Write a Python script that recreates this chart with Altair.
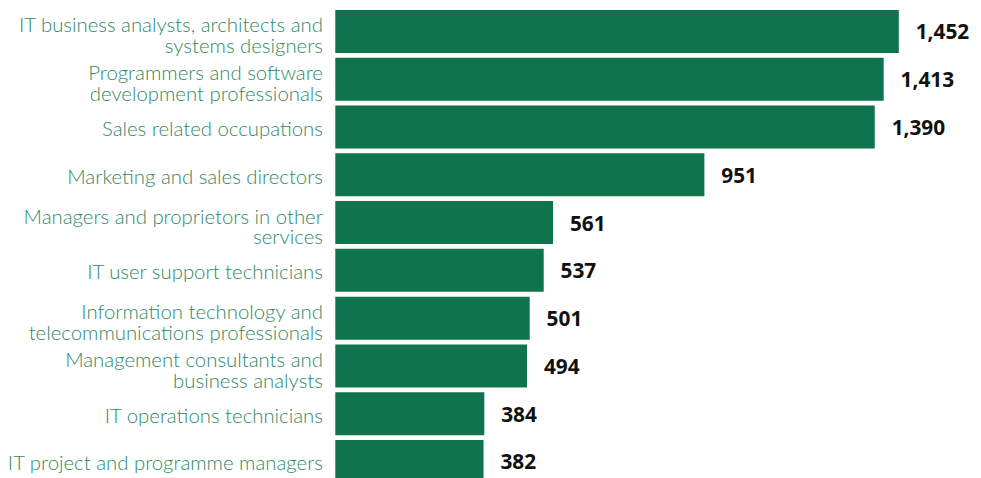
import altair as alt
import pandas as pd

categories = [
    "IT business analysts, architects and|systems designers",
    "Programmers and software|development professionals",
    "Sales related occupations",
    "Marketing and sales directors",
    "Managers and proprietors in other|services",
    "IT user support technicians",
    "Information technology and|telecommunications professionals",
    "Management consultants and|business analysts",
    "IT operations technicians",
    "IT project and programme managers",
]
values = [1452, 1413, 1390, 951, 561, 537, 501, 494, 384, 382]
value_labels = ["1,452", "1,413", "1,390", "951", "561", "537", "501", "494", "384", "382"]

df = pd.DataFrame({"cat": categories, "val": values, "lab": value_labels})

y = alt.Y(
    "cat:N",
    sort=categories,
    title=None,
    scale=alt.Scale(range=[0, 477], paddingInner=0.1, paddingOuter=0),
    axis=alt.Axis(
        labelExpr="split(datum.label, '|')",
        labelFont="Lato",
        labelFontSize=20.5,
        labelFontWeight=300,
        labelColor="#2E8A64",
        labelPadding=13,
        labelLimit=400,
        labelLineHeight=21,
        labelOffset={"condition": {"test": "indexof(datum.value, '|') >= 0", "value": -5}, "value": 3},
        ticks=False,
        domain=False,
    ),
)
x = alt.X("val:Q", title=None, scale=alt.Scale(domain=[0, 1592]), axis=None)

bars = alt.Chart(df).mark_bar(color="#0F734E").encode(x=x, y=y)
text = alt.Chart(df).mark_text(
    align="left", dx=17, dy=2, font="Open Sans", fontWeight="bold", fontSize=21, color="#111111"
).encode(x=x, y=y, text="lab:N")

chart = (bars + text).properties(
    width=623,
    height=470,
    autosize=alt.AutoSizeParams(type="none"),
    padding={"left": 330, "top": 0, "right": 20, "bottom": 0},
).configure_view(stroke=None)

chart.save("out.html", embed_options={"renderer": "svg", "actions": False})
